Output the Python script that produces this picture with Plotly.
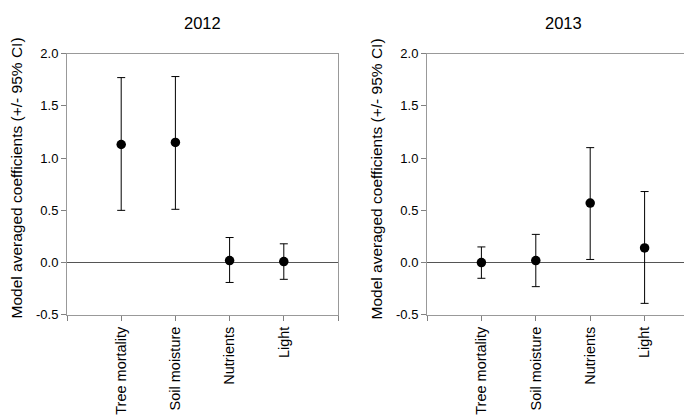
import plotly.graph_objects as go

categories = ["Tree mortality", "Soil moisture", "Nutrients", "Light"]
years = ["2012", "2013"]

mean_2012 = [1.13, 1.15, 0.02, 0.01]
upper_2012 = [1.77, 1.78, 0.24, 0.18]
lower_2012 = [0.50, 0.51, -0.19, -0.16]

mean_2013 = [0.00, 0.02, 0.57, 0.14]
upper_2013 = [0.15, 0.27, 1.10, 0.68]
lower_2013 = [-0.15, -0.23, 0.03, -0.39]

y_title = "Model averaged coefficients (+/- 95% CI)"
y_ticks = [-0.5, 0.0, 0.5, 1.0, 1.5, 2.0]

W, H = 692, 419
FONT = "Liberation Sans, Arial, sans-serif"

panels = [
    (mean_2012, upper_2012, lower_2012, (59, 330)),
    (mean_2013, upper_2013, lower_2013, (419, 691)),
]
y_px = (40, 311)
ydom = [(H - y_px[1]) / H, (H - y_px[0]) / H]

fig = go.Figure()
layout = dict(
    width=W, height=H,
    margin=dict(l=0, r=0, t=0, b=0),
    paper_bgcolor="white", plot_bgcolor="white",
    showlegend=False,
    font=dict(family=FONT, size=13, color="black"),
    annotations=[],
)

xpos = list(range(1, len(categories) + 1))
for i, (m, up, lo, (x0, x1)) in enumerate(panels):
    n = "" if i == 0 else str(i + 1)
    fig.add_trace(go.Scatter(
        x=xpos, y=m, mode="markers",
        marker=dict(color="black", size=9.5),
        error_y=dict(type="data", symmetric=False,
                     array=[u - v for u, v in zip(up, m)],
                     arrayminus=[v - l for v, l in zip(m, lo)],
                     color="black", thickness=1, width=4),
        xaxis="x" + n, yaxis="y" + n,
    ))
    layout["xaxis" + n] = dict(
        domain=[x0 / W, x1 / W], anchor="y" + n,
        range=[0, 5], tickmode="array",
        tickvals=[0, 1, 2, 3, 4, 5],
        ticktext=[""] + categories + [""],
        tickangle=-90, ticks="outside", ticklen=5, tickcolor="#808080",
        showline=True, linecolor="#999999", linewidth=1, mirror=True,
        showgrid=False, zeroline=False,
        tickfont=dict(family=FONT, size=14.5, color="black"),
    )
    layout["yaxis" + n] = dict(
        domain=ydom, anchor="x" + n,
        range=[-0.5, 2.0], tickmode="array", tickvals=y_ticks,
        ticktext=[f"{v:.1f}" for v in y_ticks],
        ticks="outside", ticklen=5, tickcolor="#808080",
        showline=True, linecolor="#999999", linewidth=1, mirror=True,
        showgrid=False, zeroline=True, zerolinecolor="#555555", zerolinewidth=1,
        tickfont=dict(family=FONT, size=13, color="black"),
    )
    layout["annotations"].append(dict(
        text=years[i], x=(x0 + x1) / 2 / W, y=1 - 8 / H,
        xref="paper", yref="paper", showarrow=False,
        xanchor="center", yanchor="middle",
        font=dict(family=FONT, size=16.5, color="black"),
    ))
    layout["annotations"].append(dict(
        text=y_title, x=(x0 - 51) / W, y=sum(ydom) / 2 + 6 / H,
        xref="paper", yref="paper", showarrow=False, textangle=-90,
        xanchor="center", yanchor="middle",
        font=dict(family=FONT, size=15.5, color="black"),
    ))

fig.update_layout(**layout)
fig.write_html("out.html")
